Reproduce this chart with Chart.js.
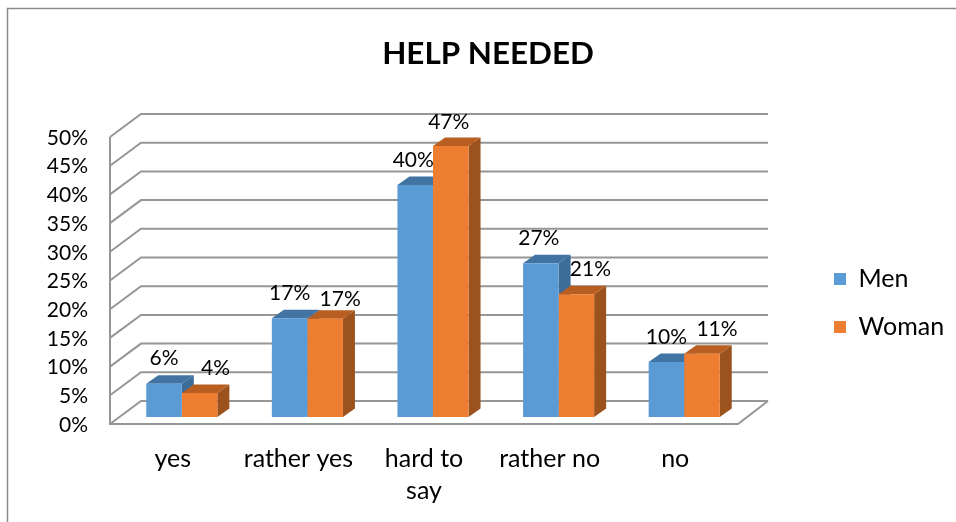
<!DOCTYPE html>
<html>
<head>
<meta charset="utf-8">
<style>html,body{margin:0;padding:0;background:#fff}canvas{display:block}</style>
<script src="https://cdn.jsdelivr.net/npm/chart.js@4/dist/chart.umd.min.js"></script>
</head>
<body>
<canvas id="c" width="956" height="522"></canvas>
<script>
const categories = ['yes', 'rather yes', ['hard to', 'say'], 'rather no', 'no'];
const men = [5.8, 17.2, 40.4, 26.8, 9.6];
const woman = [4.2, 17.1, 47.2, 21.4, 11];
const titleText = 'HELP NEEDED';
const seriesNames = ['Men', 'Woman'];

const FONT = 'Lato, "Open Sans", sans-serif';
const WORD_SIZE = 25;
const NUMBER_SIZE = 21;
const DEPTH = {dx: 12, dy: -8.5};
const WALL = {frontDx: -9, frontDy: 7, backDx: 22, backDy: -16, rightBackDx: 21, rightFrontDx: -9};
const COLORS = {
  front: ['#5B9BD5', '#ED7D31'],
  top: ['#4174A3', '#B85E20'],
  side: ['#3C6C98', '#9C521C'],
  grid: '#969696',
  frame: '#8C8C8C'
};
// label nudges [dx, dy] relative to the centre-top of each bar, by dataset and category
const LABEL_NUDGE = [
  [[0, -25], [0, -25], [-2, -25], [-2, -25], [0, -25]],
  [[16, -25], [15, -20], [-2, -24], [14, -25], [15, -25]]
];

function poly(ctx, pts, fill) {
  ctx.fillStyle = fill;
  ctx.beginPath();
  pts.forEach((p, i) => i ? ctx.lineTo(p[0], p[1]) : ctx.moveTo(p[0], p[1]));
  ctx.closePath();
  ctx.fill();
}

const scene3d = {
  id: 'scene3d',
  beforeLayout(chart) {
    const lg = chart.legend;
    if (lg && !lg._wrapped) {
      const f = lg.fit;
      lg.fit = function () { f.call(this); this.width = 209; };
      lg._wrapped = true;
    }
  },
  afterLayout(chart) {
    chart.titleBlock.left = 20;
    chart.legend.left = 811;
    chart.legend.top = 243.5;
  },
  beforeDraw(chart) {
    const ctx = chart.ctx;
    ctx.save();
    ctx.fillStyle = '#fff';
    ctx.fillRect(0, 0, chart.width, chart.height);
    ctx.strokeStyle = COLORS.frame;
    ctx.lineWidth = 1.5;
    ctx.beginPath();
    ctx.moveTo(7.5, 522);
    ctx.lineTo(7.5, 8.5);
    ctx.lineTo(956, 8.5);
    ctx.stroke();
    ctx.restore();
  },
  beforeDatasetsDraw(chart) {
    const ctx = chart.ctx, y = chart.scales.y, a = chart.chartArea;
    ctx.save();
    ctx.strokeStyle = COLORS.grid;
    ctx.lineWidth = 2;
    const xF = a.left + WALL.frontDx, xB = a.left + WALL.backDx, xR = a.right + WALL.rightBackDx, xRF = a.right + WALL.rightFrontDx;
    y.ticks.forEach(t => {
      const p = y.getPixelForValue(t.value);
      ctx.beginPath();
      ctx.moveTo(xF, p + WALL.frontDy);
      ctx.lineTo(xB, p + WALL.backDy);
      ctx.lineTo(xR, p + WALL.backDy);
      ctx.stroke();
    });
    const p0 = y.getPixelForValue(0), pMax = y.getPixelForValue(y.max);
    ctx.beginPath();
    ctx.moveTo(xF, pMax + WALL.frontDy);
    ctx.lineTo(xF, p0 + WALL.frontDy);
    ctx.lineTo(xRF, p0 + WALL.frontDy);
    ctx.lineTo(xR, p0 + WALL.backDy);
    ctx.stroke();
    // bar tops and sides; the library then draws the front faces over them
    const n = chart.data.labels.length;
    for (let i = 0; i < n; i++) {
      [0, 1].forEach(d => {
        const b = chart.getDatasetMeta(d).data[i];
        const l = b.x - b.width / 2, r = b.x + b.width / 2, t = b.y, bot = b.base;
        poly(ctx, [[r, t], [r + DEPTH.dx, t + DEPTH.dy], [r + DEPTH.dx, bot + DEPTH.dy], [r, bot]], COLORS.side[d]);
        poly(ctx, [[l, t], [l + DEPTH.dx, t + DEPTH.dy], [r + DEPTH.dx, t + DEPTH.dy], [r, t]], COLORS.top[d]);
      });
    }
    ctx.restore();
  },
  afterDatasetsDraw(chart) {
    const ctx = chart.ctx;
    ctx.save();
    ctx.font = NUMBER_SIZE + 'px ' + FONT;
    ctx.fillStyle = '#000';
    ctx.textAlign = 'center';
    ctx.textBaseline = 'middle';
    chart.data.datasets.forEach((ds, d) => {
      chart.getDatasetMeta(d).data.forEach((b, i) => {
        const nudge = LABEL_NUDGE[d][i];
        ctx.fillText(Math.round(ds.data[i]) + '%', b.x + nudge[0], b.y + nudge[1]);
      });
    });
    ctx.restore();
  }
};

new Chart(document.getElementById('c'), {
  type: 'bar',
  data: {
    labels: categories,
    datasets: [
      {label: seriesNames[0], data: men, backgroundColor: COLORS.front[0], categoryPercentage: 0.566, barPercentage: 1},
      {label: seriesNames[1], data: woman, backgroundColor: COLORS.front[1], categoryPercentage: 0.566, barPercentage: 1}
    ]
  },
  options: {
    responsive: false,
    animation: false,
    layout: {padding: 0},
    plugins: {
      tooltip: {enabled: false},
      title: {
        display: true,
        text: titleText,
        color: '#000',
        font: {family: FONT, size: 31.4, weight: 'bold', lineHeight: 1.2},
        padding: {top: 35, bottom: 57.3}
      },
      legend: {
        position: 'right',
        align: 'start',
        labels: {
          color: '#000',
          font: {family: FONT, size: WORD_SIZE},
          boxWidth: 12,
          boxHeight: 12,
          padding: 23
        }
      }
    },
    scales: {
      x: {
        grid: {display: false, drawTicks: false},
        border: {display: false},
        afterFit(s) { s.height = 105; },
        ticks: {
          color: '#000',
          font: {family: FONT, size: WORD_SIZE, lineHeight: 32 / WORD_SIZE},
          padding: 26,
          labelOffset: -9,
          autoSkip: false,
          maxRotation: 0,
          minRotation: 0
        }
      },
      y: {
        min: 0,
        max: 50,
        grid: {display: false, drawTicks: false},
        border: {display: false},
        afterFit(s) { s.width = 119; },
        ticks: {
          color: '#000',
          font: {family: FONT, size: NUMBER_SIZE},
          stepSize: 5,
          autoSkip: false,
          padding: 31,
          labelOffset: 8,
          callback: v => v + '%'
        }
      }
    }
  },
  plugins: [scene3d]
});
</script>
</body>
</html>
